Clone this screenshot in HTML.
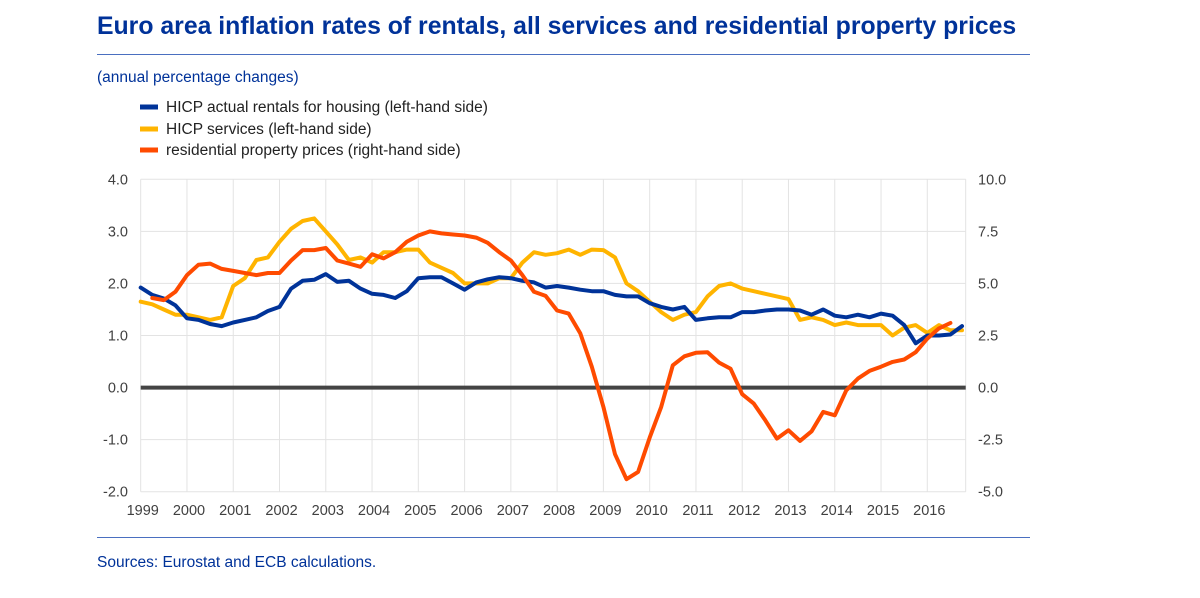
<!DOCTYPE html>
<html><head><meta charset="utf-8"><style>
body{margin:0;background:#fff;width:1200px;height:598px;overflow:hidden;font-family:"Liberation Sans",sans-serif}
</style></head><body>
<svg width="1200" height="598" style="position:absolute;left:0;top:0">
<text x="97" y="34" font-size="24.8" font-weight="bold" fill="#003299">Euro area inflation rates of rentals, all services and residential property prices</text>
<line x1="97" y1="54.5" x2="1030" y2="54.5" stroke="#4a6fc0" stroke-width="1"/>
<text x="97" y="82" font-size="15.5" fill="#003299">(annual percentage changes)</text>
<g font-size="15.5" fill="#222">
<g><line x1="140" y1="107" x2="158" y2="107" stroke="#003399" stroke-width="5"/><text x="166" y="112">HICP actual rentals for housing (left-hand side)</text></g>
<g><line x1="140" y1="129" x2="158" y2="129" stroke="#ffb400" stroke-width="5"/><text x="166" y="134">HICP services (left-hand side)</text></g>
<g><line x1="140" y1="150" x2="158" y2="150" stroke="#ff4b00" stroke-width="5"/><text x="166" y="155">residential property prices (right-hand side)</text></g>
</g>
<g id="grid"></g>
<g id="axes" font-size="14.5" fill="#404040"></g>
<g id="series"></g>
<line x1="97" y1="537.5" x2="1030" y2="537.5" stroke="#4a6fc0" stroke-width="1"/>
<text x="97" y="567" font-size="15.5" fill="#003299">Sources: Eurostat and ECB calculations.</text>
</svg>
<script>
const years=[1999,2000,2001,2002,2003,2004,2005,2006,2007,2008,2009,2010,2011,2012,2013,2014,2015,2016];
const leftTicks=[4,3,2,1,0,-1,-2];
const rightTicks=[10,7.5,5,2.5,0,-2.5,-5];
const rentalsStart=1999.0;
const rentals=[1.92,1.78,1.71,1.58,1.33,1.3,1.22,1.18,1.25,1.3,1.35,1.47,1.55,1.9,2.05,2.07,2.18,2.03,2.05,1.9,1.8,1.78,1.72,1.85,2.1,2.12,2.12,2.0,1.88,2.02,2.08,2.12,2.1,2.05,2.02,1.92,1.95,1.92,1.88,1.85,1.85,1.78,1.75,1.75,1.62,1.55,1.5,1.55,1.3,1.33,1.35,1.35,1.45,1.45,1.48,1.5,1.5,1.48,1.4,1.5,1.38,1.35,1.4,1.35,1.42,1.38,1.2,0.85,1.0,1.0,1.02,1.18];
const servicesStart=1999.0;
const services=[1.65,1.6,1.5,1.4,1.4,1.35,1.3,1.35,1.95,2.1,2.45,2.5,2.8,3.05,3.2,3.25,3.0,2.75,2.45,2.5,2.4,2.6,2.6,2.65,2.65,2.4,2.3,2.2,2.0,2.0,2.0,2.1,2.1,2.4,2.6,2.55,2.58,2.65,2.55,2.65,2.64,2.5,2.0,1.85,1.65,1.45,1.3,1.4,1.45,1.75,1.95,2.0,1.9,1.85,1.8,1.75,1.7,1.3,1.35,1.3,1.2,1.25,1.2,1.2,1.2,1.0,1.15,1.2,1.05,1.2,1.1,1.1];
const propertyStart=1999.25;
const property=[4.3,4.2,4.6,5.4,5.9,5.95,5.7,5.6,5.5,5.4,5.5,5.5,6.1,6.6,6.6,6.7,6.1,5.95,5.8,6.4,6.2,6.5,7.0,7.3,7.5,7.4,7.35,7.3,7.2,6.95,6.5,6.1,5.4,4.6,4.4,3.7,3.55,2.6,1.0,-0.93,-3.2,-4.4,-4.05,-2.4,-0.93,1.07,1.5,1.67,1.7,1.2,0.9,-0.32,-0.77,-1.57,-2.45,-2.05,-2.56,-2.1,-1.17,-1.33,-0.13,0.43,0.8,1.0,1.23,1.35,1.7,2.35,2.84,3.1];
const NS='http://www.w3.org/2000/svg';
const X0=140.7,XS=46.27,YT=179.3,YB=491.7,XR=965.7;
const x=t=>X0+(t-1999)*XS;
const yL=v=>YT+(4-v)*(YB-YT)/6;
const yR=v=>YT+(10-v)*(YB-YT)/15;
function mk(tag,attrs,parent){const e=document.createElementNS(NS,tag);for(const k in attrs)e.setAttribute(k,attrs[k]);parent.appendChild(e);return e;}
const grid=document.getElementById('grid'),axes=document.getElementById('axes'),ser=document.getElementById('series');
years.forEach(yr=>{const l=mk('line',{x1:x(yr),x2:x(yr),y1:YT,y2:YB,stroke:'#e3e3e3','stroke-width':1},grid);


const t=mk('text',{x:x(yr)+2,y:515,'text-anchor':'middle'},axes);t.textContent=yr;

});
mk('line',{x1:XR,x2:XR,y1:YT,y2:YB,stroke:'#e3e3e3','stroke-width':1},grid);
leftTicks.forEach(v=>{const l=mk('line',{x1:X0,x2:XR,y1:yL(v),y2:yL(v),stroke:'#e3e3e3','stroke-width':1},grid);


const t=mk('text',{x:128,y:yL(v)+5,'text-anchor':'end'},axes);t.textContent=v.toFixed(1);

});
rightTicks.forEach(v=>{const t=mk('text',{x:978,y:yR(v)+5},axes);t.textContent=v.toFixed(1);

});
const z=mk('line',{x1:X0,x2:XR,y1:yL(0),y2:yL(0),stroke:'#444','stroke-width':4},ser);


function line(arr,start,yf,color,name){const d=arr.map((v,i)=>(i?'L':'M')+x(start+i*0.25).toFixed(1)+' '+yf(v).toFixed(1)).join(' ');
const p=mk('path',{d:d,fill:'none',stroke:color,'stroke-width':4,'stroke-linejoin':'round','stroke-linecap':'round'},ser);

}
line(services,servicesStart,yL,'#ffb400','services-line');
line(rentals,rentalsStart,yL,'#003399','rentals-line');
line(property,propertyStart,yR,'#ff4b00','property-prices-line');
</script>
</body></html>
